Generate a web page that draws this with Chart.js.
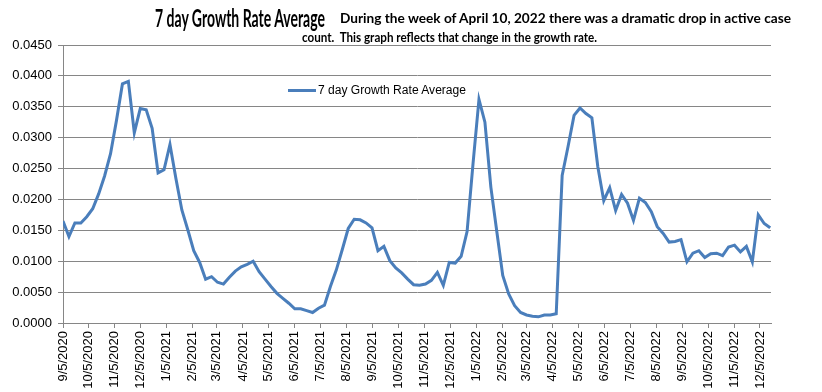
<!DOCTYPE html>
<html>
<head>
<meta charset="utf-8">
<script src="https://cdn.jsdelivr.net/npm/chart.js@4.4.1/dist/chart.umd.min.js"></script>
<style>
  body { margin: 0; background: #fff; }
  #wrap { position: relative; width: 822px; height: 392px; overflow: hidden; }
  #chart { position: absolute; left: 0; top: 0; }
  .txt { position: absolute; white-space: pre; transform-origin: 0 0; color: #000; font-family: Lato, "Open Sans", sans-serif; }
  #title { left: 155px; top: 3px; font-size: 24px; font-weight: bold; }
  #note1 { left: 340px; top: 10px; font-size: 13px; font-weight: bold; }
  #note2 { left: 302px; top: 29px; font-size: 13px; font-weight: bold; }
  #legendLine { position: absolute; left: 288px; top: 89px; width: 28px; height: 3px; background: #4a7ebb; }
  #legendText { left: 318px; top: 83px; font-size: 12px; font-family: "Liberation Sans", Arial, sans-serif; }
</style>
</head>
<body>
<div id="wrap">
  <canvas id="chart" width="822" height="392"></canvas>
  <div class="txt" id="title" data-w="170">7 day Growth Rate Average</div>
  <div class="txt" id="note1" data-w="451">During the week of April 10, 2022 there was a dramatic drop in active case</div>
  <div class="txt" id="note2" data-w="295">count.  This graph reflects that change in the growth rate.</div>
  <div id="legendLine"></div>
  <div class="txt" id="legendText" data-w="148">7 day Growth Rate Average</div>
</div>
<script>
// weekly observations
const weekDates = [
  "9/5/2020", "9/12/2020", "9/19/2020", "9/26/2020",
  "10/3/2020", "10/10/2020", "10/17/2020", "10/24/2020", "10/31/2020",
  "11/7/2020", "11/14/2020", "11/21/2020", "11/28/2020",
  "12/5/2020", "12/12/2020", "12/19/2020", "12/26/2020",
  "1/2/2021", "1/9/2021", "1/16/2021", "1/23/2021", "1/30/2021",
  "2/6/2021", "2/13/2021", "2/20/2021", "2/27/2021",
  "3/6/2021", "3/13/2021", "3/20/2021", "3/27/2021",
  "4/3/2021", "4/10/2021", "4/17/2021", "4/24/2021",
  "5/1/2021", "5/8/2021", "5/15/2021", "5/22/2021", "5/29/2021",
  "6/5/2021", "6/12/2021", "6/19/2021", "6/26/2021",
  "7/3/2021", "7/10/2021", "7/17/2021", "7/24/2021", "7/31/2021",
  "8/7/2021", "8/14/2021", "8/21/2021", "8/28/2021",
  "9/4/2021", "9/11/2021", "9/18/2021", "9/25/2021",
  "10/2/2021", "10/9/2021", "10/16/2021", "10/23/2021", "10/30/2021",
  "11/6/2021", "11/13/2021", "11/20/2021", "11/27/2021",
  "12/4/2021", "12/11/2021", "12/18/2021", "12/25/2021",
  "1/1/2022", "1/8/2022", "1/15/2022", "1/22/2022", "1/29/2022",
  "2/5/2022", "2/12/2022", "2/19/2022", "2/26/2022",
  "3/5/2022", "3/12/2022", "3/19/2022", "3/26/2022",
  "4/2/2022", "4/9/2022", "4/16/2022", "4/23/2022", "4/30/2022",
  "5/7/2022", "5/14/2022", "5/21/2022", "5/28/2022",
  "6/4/2022", "6/11/2022", "6/18/2022", "6/25/2022",
  "7/2/2022", "7/9/2022", "7/16/2022", "7/23/2022", "7/30/2022",
  "8/6/2022", "8/13/2022", "8/20/2022", "8/27/2022",
  "9/3/2022", "9/10/2022", "9/17/2022", "9/24/2022",
  "10/1/2022", "10/8/2022", "10/15/2022", "10/22/2022", "10/29/2022",
  "11/5/2022", "11/12/2022", "11/19/2022", "11/26/2022",
  "12/3/2022", "12/10/2022", "12/17/2022"
];

const growthRate = [
  0.0165, 0.0140, 0.0162, 0.0162,
  0.0172, 0.0185, 0.0209, 0.0238, 0.0274,
  0.0328, 0.0387, 0.0391, 0.0308,
  0.0347, 0.0345, 0.0315, 0.0243,
  0.0248, 0.0289, 0.0234, 0.0183, 0.0151,
  0.0117, 0.0098, 0.0071, 0.0075,
  0.0066, 0.0063, 0.0074, 0.0084,
  0.0091, 0.0095, 0.0100, 0.0083,
  0.0071, 0.0059, 0.0048, 0.0040, 0.0032,
  0.0023, 0.0023, 0.0020, 0.0017,
  0.0024, 0.0029, 0.0059, 0.0086, 0.0119,
  0.0153, 0.0168, 0.0167, 0.0162,
  0.0154, 0.0117, 0.0124, 0.0101,
  0.0089, 0.0081, 0.0071, 0.0062, 0.0061,
  0.0063, 0.0069, 0.0082, 0.0061,
  0.0098, 0.0097, 0.0108, 0.0148,
  0.0258, 0.0362, 0.0325, 0.0220, 0.0148,
  0.0077, 0.0047, 0.0028, 0.0017,
  0.0013, 0.0011, 0.0010, 0.0013,
  0.0013, 0.0015, 0.0239, 0.0286, 0.0336,
  0.0348, 0.0339, 0.0332, 0.0253,
  0.0198, 0.0219, 0.0182, 0.0208,
  0.0194, 0.0166, 0.0202, 0.0195, 0.0180,
  0.0156, 0.0145, 0.0131, 0.0132,
  0.0135, 0.0099, 0.0113, 0.0117,
  0.0106, 0.0112, 0.0113, 0.0109, 0.0123,
  0.0126, 0.0115, 0.0124, 0.0099,
  0.0175, 0.0161, 0.0154
];

const tickDates = [
  "9/5/2020", "10/5/2020", "11/5/2020", "12/5/2020",
  "1/5/2021", "2/5/2021", "3/5/2021", "4/5/2021", "5/5/2021", "6/5/2021",
  "7/5/2021", "8/5/2021", "9/5/2021", "10/5/2021", "11/5/2021", "12/5/2021",
  "1/5/2022", "2/5/2022", "3/5/2022", "4/5/2022", "5/5/2022", "6/5/2022",
  "7/5/2022", "8/5/2022", "9/5/2022", "10/5/2022", "11/5/2022", "12/5/2022"
];
const axisEndDate = "12/18/2022";

function dayNumber(s) {
  const [m, d, y] = s.split("/").map(Number);
  return Date.UTC(y, m - 1, d) / 86400000;
}
const baseDay = dayNumber(weekDates[0]);
const toX = s => dayNumber(s) - baseDay;

const points = weekDates.map((d, i) => ({ x: toX(d), y: growthRate[i] }));
const tickValues = tickDates.map(toX);
const tickLabelByValue = {};
tickDates.forEach(d => { tickLabelByValue[toX(d)] = d; });

const axisFont = { family: "'Liberation Sans', Arial, sans-serif", size: 13 };
const gridGray = "#868686";

new Chart(document.getElementById("chart"), {
  type: "line",
  data: {
    datasets: [{
      label: "7 day Growth Rate Average",
      data: points,
      borderColor: "#4a7ebb",
      borderWidth: 3,
      pointRadius: 0,
      tension: 0,
      fill: false
    }]
  },
  options: {
    responsive: false,
    animation: false,
    layout: { padding: { top: 45, right: 51, left: 0, bottom: 0 } },
    plugins: {
      legend: { display: false },
      tooltip: { enabled: false }
    },
    scales: {
      x: {
        type: "linear",
        min: 0,
        max: toX(axisEndDate),
        afterBuildTicks: scale => {
          scale.ticks = tickValues.map(v => ({ value: v }));
        },
        afterFit: scale => { scale.height = 69; },
        ticks: {
          autoSkip: false,
          minRotation: 90,
          maxRotation: 90,
          padding: 3,
          color: "#000",
          font: axisFont,
          callback: v => tickLabelByValue[v] || ""
        },
        grid: { drawOnChartArea: false, tickLength: 5, color: gridGray },
        border: { color: gridGray }
      },
      y: {
        min: 0,
        max: 0.045,
        afterFit: scale => { scale.width = 63; },
        ticks: {
          stepSize: 0.005,
          padding: 6,
          color: "#000",
          font: axisFont,
          callback: v => v.toFixed(4)
        },
        grid: { color: gridGray, tickLength: 5 },
        border: { color: gridGray }
      }
    }
  }
});

// squeeze the title texts to the widths they take in the original
document.querySelectorAll(".txt").forEach(el => {
  const w = el.getBoundingClientRect().width;
  el.style.transform = `scaleX(${Number(el.dataset.w) / w})`;
});
</script>
</body>
</html>
